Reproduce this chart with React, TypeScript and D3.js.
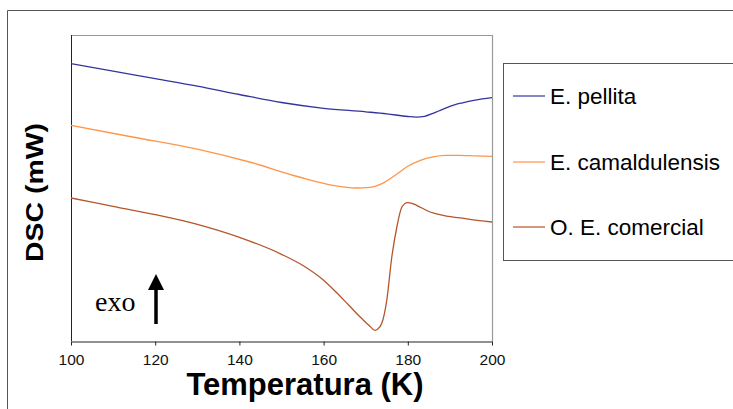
import React, {useEffect, useRef} from "react";
import * as d3 from "d3";

// temperatures (K) and DSC signal (arbitrary mW units)
const pellitaT = [100, 110, 120, 130, 140, 150, 160, 170, 175, 180, 182, 184, 186, 188, 190, 193, 196, 200];
const pellitaV = [27.74, 26.99, 26.24, 25.49, 24.65, 23.85, 23.27, 22.92, 22.72, 22.45, 22.39, 22.47, 22.77, 23.12, 23.47, 23.82, 24.09, 24.34];

const camaldT = [100, 114.6, 130.5, 142.4, 154.2, 162.2, 167.7, 171, 174, 177, 180, 183, 186, 189, 192, 196, 200];
const camaldV = [21.57, 20.40, 19.14, 17.90, 16.40, 15.57, 15.30, 15.37, 15.77, 16.57, 17.47, 18.07, 18.42, 18.57, 18.57, 18.52, 18.47];

const comercialT = [100, 110, 120, 130, 140, 150, 155, 160, 163, 166, 169, 171, 172.2, 172.8, 173.8, 175, 176.2, 177.4, 178.6, 179.9, 181, 182.1, 185.3, 188.4, 194, 200];
const comercialV = [14.30, 13.47, 12.64, 11.67, 10.37, 8.67, 7.57, 6.07, 4.87, 3.57, 2.27, 1.47, 1.07, 1.17, 1.74, 4.07, 8.40, 11.40, 13.40, 13.84, 13.77, 13.57, 12.90, 12.57, 12.22, 11.90];

const seriesNames = ["E. pellita", "E. camaldulensis", "O. E. comercial"];
const seriesColors = ["#34349c", "#ff9548", "#b5552a"];
const xTicks = [100, 120, 140, 160, 180, 200];

const App = () => {
    const ref = useRef(null);

    useEffect(() => {
        const w = 733;
        const h = 409;
        const m = {left: 71, right: 492, top: 35, bottom: 341};
        const svg = d3.select(ref.current)
            .attr("width", w)
            .attr("height", h)
            .style("background", "#fff");

        svg.selectAll("*").remove();

        // outer frame
        svg.append("path")
            .attr("d", `M7.5,${h} L7.5,10.5 L${w},10.5`)
            .attr("fill", "none")
            .attr("stroke", "#555")
            .attr("stroke-width", 1);

        const x = d3.scaleLinear().domain([100, 200]).range([m.left, m.right]);
        const y = d3.scaleLinear().domain([0, 30.6]).range([m.bottom, m.top]);

        // plot frame (top/right gray)
        svg.append("path")
            .attr("d", `M${m.left},${m.top + 0.5} L${m.right + 0.5},${m.top + 0.5} L${m.right + 0.5},${m.bottom}`)
            .attr("fill", "none")
            .attr("stroke", "#999")
            .attr("stroke-width", 1.2);

        // left axis line
        svg.append("line")
            .attr("x1", m.left + 0.5).attr("x2", m.left + 0.5)
            .attr("y1", m.top).attr("y2", m.bottom)
            .attr("stroke", "#222");

        // bottom axis
        const xAxis = d3.axisBottom(x)
            .tickValues(xTicks)
            .tickSize(4)
            .tickSizeOuter(0)
            .tickPadding(8)
            .tickFormat(d3.format("d"));
        const gx = svg.append("g")
            .attr("transform", `translate(0, ${m.bottom + 0.5})`)
            .call(xAxis);
        gx.select(".domain").attr("stroke", "#222");
        gx.selectAll(".tick line").attr("stroke", "#222");
        gx.selectAll("text")
            .attr("font-family", "Liberation Sans, Arial, sans-serif")
            .attr("font-size", 15.5)
            .attr("fill", "#111");

        // curves
        const line = d3.line().curve(d3.curveMonotoneX)
            .x(d => x(d[0]))
            .y(d => y(d[1]));
        const series = [
            d3.zip(pellitaT, pellitaV),
            d3.zip(camaldT, camaldV),
            d3.zip(comercialT, comercialV)
        ];
        series.forEach((s, i) => {
            svg.append("path")
                .datum(s)
                .attr("d", line)
                .attr("fill", "none")
                .attr("stroke", seriesColors[i])
                .attr("stroke-width", 1.3);
        });

        // axis titles
        svg.append("text")
            .attr("x", 305)
            .attr("y", 395)
            .attr("text-anchor", "middle")
            .attr("font-family", "Liberation Sans, Arial, sans-serif")
            .attr("font-weight", "bold")
            .attr("font-size", 31)
            .attr("fill", "#000")
            .text("Temperatura (K)");

        svg.append("text")
            .attr("transform", "translate(43, 192.5) rotate(-90)")
            .attr("text-anchor", "middle")
            .attr("font-family", "Liberation Sans, Arial, sans-serif")
            .attr("font-weight", "bold")
            .attr("font-size", 23)
            .attr("textLength", 139)
            .attr("lengthAdjust", "spacingAndGlyphs")
            .attr("fill", "#000")
            .text("DSC (mW)");

        // exo arrow
        svg.append("text")
            .attr("x", 95)
            .attr("y", 311)
            .attr("font-family", "Liberation Serif, Times New Roman, serif")
            .attr("font-size", 28)
            .attr("fill", "#000")
            .text("exo");
        svg.append("line")
            .attr("x1", 156).attr("x2", 156)
            .attr("y1", 324).attr("y2", 286)
            .attr("stroke", "#000")
            .attr("stroke-width", 3.5);
        svg.append("path")
            .attr("d", "M148,290 L156,274 L164,290 Z")
            .attr("fill", "#000");

        // legend
        svg.append("rect")
            .attr("x", 503.5).attr("y", 63.5)
            .attr("width", 240).attr("height", 197)
            .attr("fill", "#fff")
            .attr("stroke", "#555");
        const rowY = [96, 162, 227];
        seriesNames.forEach((name, i) => {
            svg.append("line")
                .attr("x1", 513).attr("x2", 545)
                .attr("y1", rowY[i]).attr("y2", rowY[i])
                .attr("stroke", seriesColors[i])
                .attr("stroke-width", 1.2);
            svg.append("text")
                .attr("x", 550)
                .attr("y", rowY[i] + 8)
                .attr("font-family", "Liberation Sans, Arial, sans-serif")
                .attr("font-size", 22.5)
                .attr("fill", "#000")
                .text(name);
        });
    }, []);

    return (<div style={{position: "fixed", left: 0, top: 0}}>
        <svg ref={ref} style={{display: "block"}}></svg>
    </div>);
};

export default App;
